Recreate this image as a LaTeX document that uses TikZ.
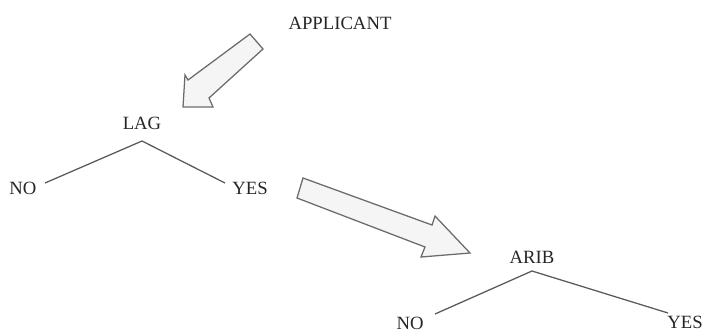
\documentclass[tikz,border=0pt]{standalone}
\usepackage{fontspec}
\setmainfont{Liberation Serif}
\usepackage{tikz}
\usetikzlibrary{positioning}

\begin{document}
\begin{tikzpicture}[x=0.025cm,y=-0.025cm,
        label/.style={inner sep=0pt,text=black!85,font=\fontsize{13.3}{15}\selectfont},
        branch/.style={draw=black!65,line width=0.9pt},
        blockarrow/.style={draw=black!58,fill=black!4,line width=0.9pt,line join=miter}]
            \useasboundingbox (0,0) rectangle (702,331);

            \node[label] (applicant) at (340,23) {APPLICANT};
            \node[label] (lag) at (142,123) {LAG};
            \node[label] (lagno) at (23,188) {NO};
            \node[label] (lagyes) at (250,188) {YES};
            \node[label] (arib) at (532,257) {ARIB};
            \node[label] (aribno) at (410,323) {NO};
            \node[label] (aribyes) at (685,322) {YES};

            \coordinate (lagtop) at (142,141);
            \coordinate (lagleft) at (45,183);
            \coordinate (lagright) at (225,183);
            \coordinate (aribtop) at (532,271);
            \coordinate (aribleft) at (435,314);
            \coordinate (aribright) at (668,313);

            \draw[branch] (lagleft)--(lagtop)--(lagright);
            \draw[branch] (aribleft)--(aribtop)--(aribright);

            % block arrows
            \draw[blockarrow] (250,34)--(263,49)--(209,98)--(213,107)--(183,107)--(185,75)--(188,80)--cycle;
            \draw[blockarrow] (303,178)--(432,225)--(435,216)--(470,253)--(421,257)--(425,247)--(297,198)--cycle;
        \end{tikzpicture}
\end{document}
